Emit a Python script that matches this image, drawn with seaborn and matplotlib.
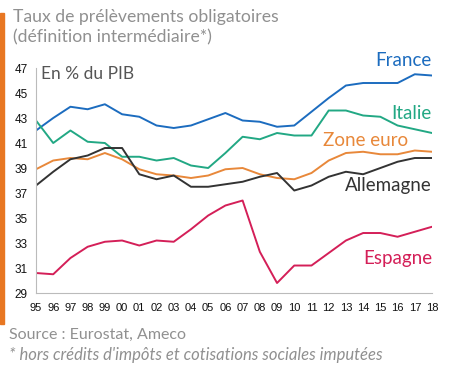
import pandas as pd
import seaborn as sns
import matplotlib.pyplot as plt
from matplotlib.patches import Rectangle

# Years and tax-to-GDP values
years = ["95", "96", "97", "98", "99", "00", "01", "02", "03", "04", "05", "06",
         "07", "08", "09", "10", "11", "12", "13", "14", "15", "16", "17", "18"]
france = [42.0, 43.0, 43.9, 43.7, 44.1, 43.3, 43.1, 42.4, 42.2, 42.4, 42.9, 43.4,
          42.8, 42.7, 42.3, 42.4, 43.5, 44.6, 45.6, 45.8, 45.8, 45.8, 46.5, 46.4]
italie = [42.8, 41.0, 42.0, 41.1, 41.0, 39.9, 39.9, 39.6, 39.8, 39.2, 39.0, 40.2,
          41.5, 41.3, 41.8, 41.6, 41.6, 43.6, 43.6, 43.2, 43.1, 42.4, 42.1, 41.8]
zone_euro = [38.9, 39.6, 39.8, 39.7, 40.2, 39.7, 38.9, 38.5, 38.4, 38.2, 38.4, 38.9,
             39.0, 38.5, 38.2, 38.1, 38.6, 39.6, 40.2, 40.3, 40.1, 40.1, 40.4, 40.3]
allemagne = [37.6, 38.7, 39.7, 40.0, 40.6, 40.6, 38.5, 38.1, 38.4, 37.5, 37.5, 37.7,
             37.9, 38.3, 38.6, 37.2, 37.6, 38.3, 38.7, 38.5, 39.0, 39.5, 39.8, 39.8]
espagne = [30.6, 30.5, 31.8, 32.7, 33.1, 33.2, 32.8, 33.2, 33.1, 34.1, 35.2, 36.0,
           36.4, 32.3, 29.8, 31.2, 31.2, 32.2, 33.2, 33.8, 33.8, 33.5, 33.9, 34.3]

series = {"France": france, "Italie": italie, "Zone euro": zone_euro,
          "Allemagne": allemagne, "Espagne": espagne}
colors = {"France": "#1c6cbf", "Italie": "#22a884", "Zone euro": "#e8883a",
          "Allemagne": "#333333", "Espagne": "#d41f58"}

rows = []
for name, vals in series.items():
    for i, v in enumerate(vals):
        rows.append({"idx": i, "pays": name, "valeur": v})
df = pd.DataFrame(rows)

sns.set_style("white")
plt.rcParams["font.family"] = ["Lato", "DejaVu Sans"]

fig = plt.figure(figsize=(4.5, 3.71), dpi=100)
ax = fig.add_axes([0.08, 0.2102, 0.88, 0.6065])

sns.lineplot(data=df, x="idx", y="valeur", hue="pays", palette=colors,
             legend=False, linewidth=1.4, ax=ax)

ax.set_xlim(0, 23)
ax.set_ylim(29, 47)
ax.set_xticks(range(len(years)))
ax.set_xticklabels(years, family="Liberation Sans", fontsize=8, color="#111111")
ax.set_yticks(range(29, 48, 2))
ax.set_yticklabels([str(t) for t in range(29, 48, 2)], family="Liberation Sans",
                   fontsize=8.5, color="#111111")
ax.set_xlabel("")
ax.set_ylabel("")
for s in ["top", "right"]:
    ax.spines[s].set_visible(False)
for s in ["left", "bottom"]:
    ax.spines[s].set_color("#bbbbbb")
    ax.spines[s].set_linewidth(0.8)
ax.tick_params(axis="x", direction="in", length=3, color="#bbbbbb", pad=7)
ax.tick_params(axis="y", length=0, pad=6)

# series labels
lab = {"France": (23, 47.6), "Italie": (23, 43.4), "Zone euro": (21.6, 41.2),
       "Allemagne": (23, 37.6), "Espagne": (23, 31.8)}
for name, (x, y) in lab.items():
    ax.text(x, y, name, color=colors[name], fontsize=13.5, ha="right",
            va="center")

ax.text(0.3, 46.5, "En % du PIB", fontsize=12.5, color="#555555", va="center")

fig.text(13 / 450, 1 - 17 / 371, "Taux de prélèvements obligatoires",
         fontsize=12.7, color="#909090", va="center")
fig.text(13 / 450, 1 - 37 / 371, "(définition intermédiaire*)",
         fontsize=12.7, color="#909090", va="center")
fig.text(9 / 450, 1 - 335 / 371, "Source : Eurostat, Ameco",
         fontsize=11.5, color="#909090", va="center")
fig.text(9 / 450, 1 - 355 / 371,
         "* hors crédits d'impôts et cotisations sociales imputées",
         fontsize=12, color="#909090", va="center", style="italic")

fig.patches.append(Rectangle((0, 1 - 324 / 371), 4 / 450, 311 / 371,
                             transform=fig.transFigure, color="#e87722"))

fig.savefig("out.png", dpi=100)
